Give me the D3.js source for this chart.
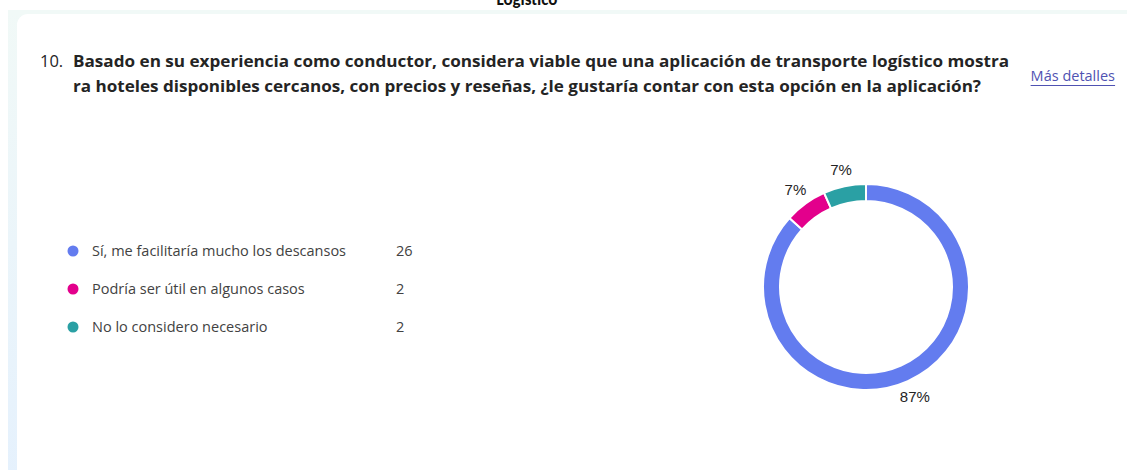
<!DOCTYPE html>
<html>
<head>
<meta charset="utf-8">
<script src="https://cdn.jsdelivr.net/npm/d3@7"></script>
<style>
  html, body { margin: 0; padding: 0; background: #fff; overflow: hidden; }
  svg { display: block; }
  text { font-family: "Segoe UI", "Open Sans", "Noto Sans", sans-serif; }
</style>
</head>
<body>
<div id="chart"></div>
<script>
// answers of question 10
const categories = [
  "Sí, me facilitaría mucho los descansos",
  "Podría ser útil en algunos casos",
  "No lo considero necesario"
];
const counts = [26, 2, 2];
const colors = ["#637cef", "#e3008c", "#2aa0a4"];
const questionLines = [
  "Basado en su experiencia como conductor, considera viable que una aplicación de transporte logístico mostra",
  "ra hoteles disponibles cercanos, con precios y reseñas, ¿le gustaría contar con esta opción en la aplicación?"
];

const width = 1127, height = 470;

const svg = d3.select("#chart").append("svg")
  .attr("width", width)
  .attr("height", height);

// page frame
let defs = svg.append("defs");
let grad = defs.append("linearGradient")
  .attr("id", "side")
  .attr("x1", 0).attr("y1", 0).attr("x2", 0).attr("y2", 1);
grad.append("stop").attr("offset", "0%").attr("stop-color", "#f1f9f7");
grad.append("stop").attr("offset", "100%").attr("stop-color", "#e5f1fd");

svg.append("rect")
  .attr("x", 8).attr("y", 10)
  .attr("width", width).attr("height", height)
  .attr("fill", "url(#side)");
svg.append("rect")
  .attr("x", 8).attr("y", 10)
  .attr("width", width).attr("height", 6)
  .attr("fill", "#f1f9f7");

svg.append("rect")
  .attr("x", 17).attr("y", 14)
  .attr("width", width + 20).attr("height", height + 20)
  .attr("rx", 11)
  .attr("fill", "#fff");

// heading of the page above, cut by the screenshot
svg.append("text")
  .attr("x", 527).attr("y", 5)
  .attr("text-anchor", "middle")
  .style("font-family", "Carlito, 'Liberation Sans', sans-serif")
  .style("font-weight", "bold")
  .style("font-size", "17px")
  .attr("fill", "#111")
  .text("Logístico");

// question
let q = svg.append("g").attr("fill", "#242424");
q.append("text")
  .attr("x", 40).attr("y", 67)
  .style("font-size", "16.5px")
  .text("10.");
q.selectAll("text.line")
  .data(questionLines)
  .enter()
  .append("text")
  .attr("class", "line")
  .attr("x", 73)
  .attr("y", function(d, i) { return 67 + i * 25; })
  .attr("textLength", function(d, i) { return i == 0 ? 936 : 908; })
  .attr("lengthAdjust", "spacingAndGlyphs")
  .style("font-size", "16.5px")
  .style("font-weight", "bold")
  .text(function(d) { return d; });

let link = svg.append("text")
  .attr("x", 1115).attr("y", 81)
  .attr("text-anchor", "end")
  .style("font-size", "14.5px")
  .attr("fill", "#4f52b2")
  .text("Más detalles");
let lb = link.node().getBBox();
svg.append("line")
  .attr("x1", lb.x).attr("x2", lb.x + lb.width)
  .attr("y1", 85.5).attr("y2", 85.5)
  .attr("stroke", "#4f52b2")
  .attr("stroke-width", 1);

// legend
let legend = svg.append("g")
  .selectAll("g")
  .data(categories)
  .enter()
  .append("g")
  .attr("transform", function(d, i) {
    return `translate(73, ${251 + i * 38})`;
  });

legend.append("circle")
  .attr("r", 5.5)
  .attr("fill", function(d, i) { return colors[i]; });

legend.append("text")
  .attr("x", 19)
  .attr("dy", "0.35em")
  .style("font-size", "14.5px")
  .attr("fill", "#424242")
  .text(function(d) { return d; });

legend.append("text")
  .attr("x", 323)
  .attr("dy", "0.35em")
  .style("font-size", "14.5px")
  .attr("fill", "#424242")
  .text(function(d, i) { return counts[i]; });

// donut
let cx = 866, cy = 287, radius = 103, innerRadius = 86;
let total = d3.sum(counts);

let pie = d3.pie()
  .value(function(d) { return d; })
  .sort(null);

let arc = d3.arc()
  .innerRadius(innerRadius)
  .outerRadius(radius);

let labelArc = d3.arc()
  .innerRadius(120)
  .outerRadius(120);

let donut = svg.append("g")
  .attr("transform", `translate(${cx}, ${cy})`);

donut.selectAll("path")
  .data(pie(counts))
  .enter()
  .append("path")
  .attr("d", arc)
  .attr("fill", function(d, i) { return colors[i]; })
  .attr("stroke", "#fff")
  .attr("stroke-width", 2);

donut.selectAll("text")
  .data(pie(counts))
  .enter()
  .append("text")
  .attr("transform", function(d) {
    return `translate(${labelArc.centroid(d)})`;
  })
  .attr("text-anchor", "middle")
  .attr("dy", "0.35em")
  .style("font-family", "'Liberation Sans Narrow', 'Liberation Sans', sans-serif")
  .style("font-size", "15px")
  .attr("fill", "#242424")
  .text(function(d) { return Math.round(d.value / total * 100) + "%"; });
</script>
</body>
</html>
